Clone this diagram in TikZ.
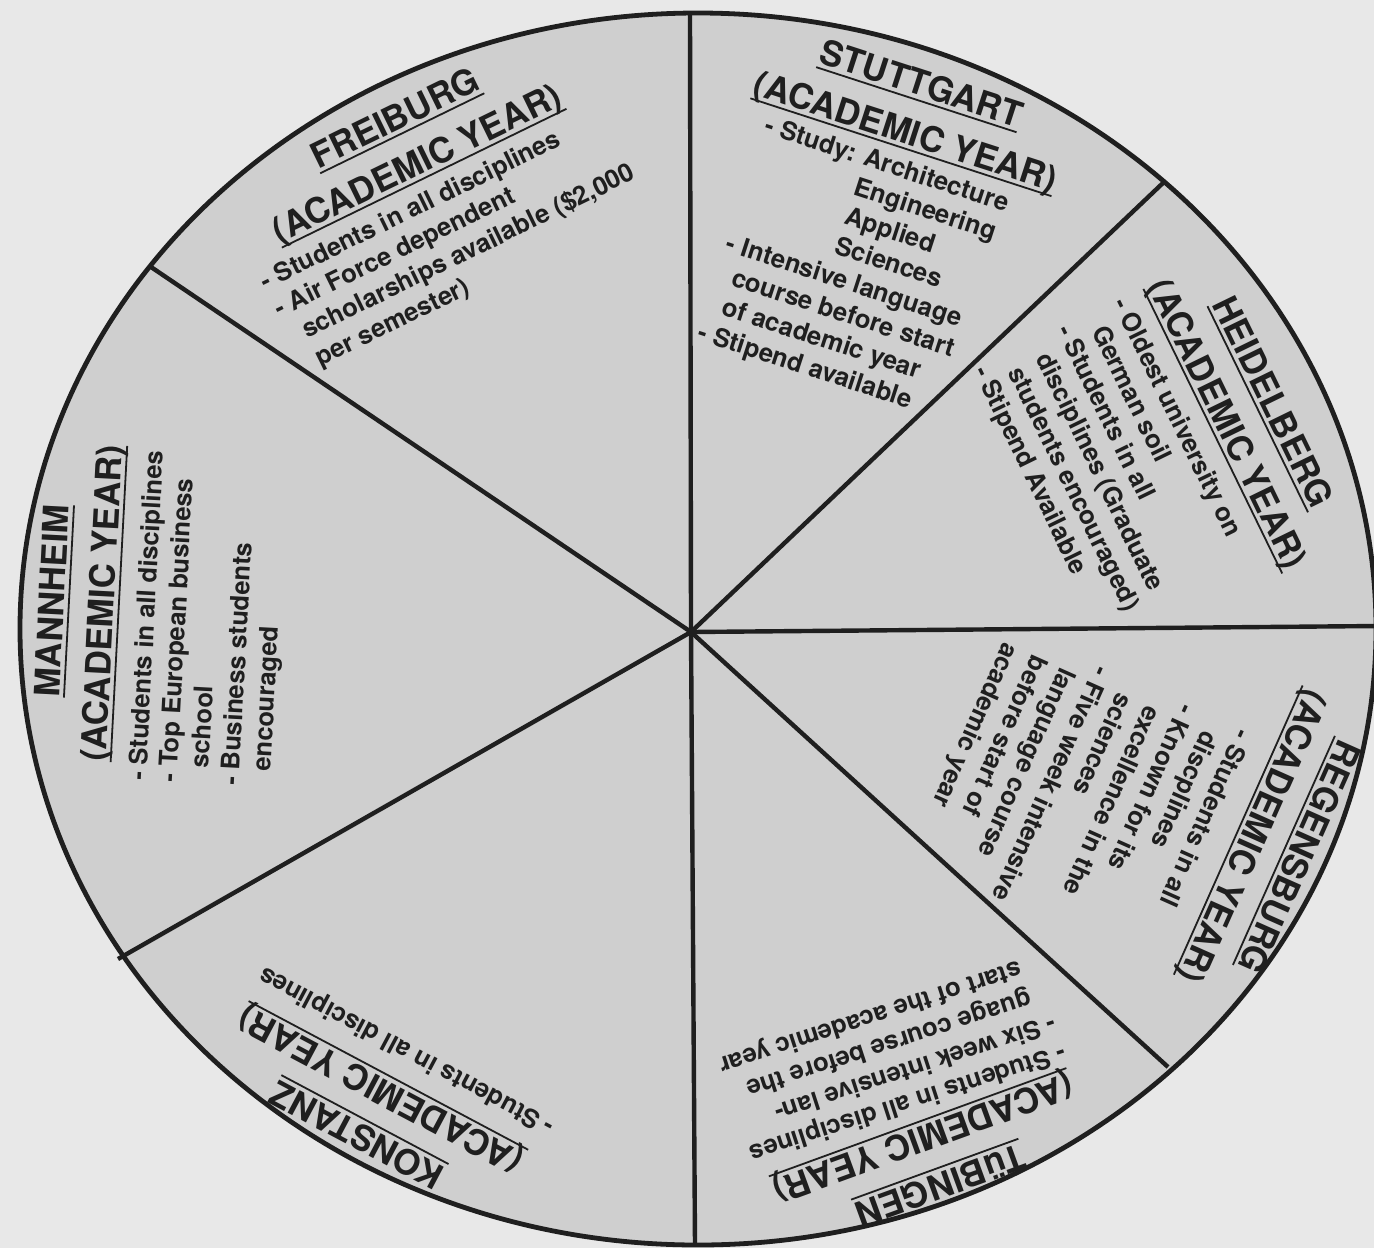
\documentclass[tikz,border=0pt]{standalone}
\usepackage{fontspec}
\setmainfont{TeX Gyre Heros}

\definecolor{paper}{gray}{0.91}
\definecolor{disc}{gray}{0.81}
\definecolor{ink}{gray}{0.12}

% underline used in the sector headings
\newcommand{\hdul}[1]{\setbox0=\hbox{#1}\rlap{\rule[-2.8pt]{\wd0}{0.9pt}}\box0}

\begin{document}
\begin{tikzpicture}[
		x=0.5pt, y=-0.5pt,
		% heading: city over (ACADEMIC YEAR)
		head/.style={font=\fontsize{17.5}{25}\selectfont\bfseries, text=ink,
			align=center, inner sep=0pt},
		% bullet list of each sector
		body/.style={font=\fontsize{12.8}{15.5}\selectfont\bfseries, text=ink,
			align=left, inner sep=0pt},
		spoke/.style={draw=ink, line width=2.2pt},
		rim/.style={draw=ink, fill=disc, line width=2.4pt}
		]
		
		\useasboundingbox (0,0) rectangle (1374,1248);
		\fill[paper] (0,0) rectangle (1374,1248);
		
		% === WHEEL ===
		
		\filldraw[rim] (698,629) ellipse [x radius=678, y radius=616];
		
		\coordinate (hub) at (691,632);
		\coordinate (rimN) at (690,13);
		\coordinate (rimNE) at (1164,182);
		\coordinate (rimE) at (1378,626);
		\coordinate (rimSE) at (1168,1067);
		\coordinate (rimS) at (695,1246);
		\coordinate (rimSW) at (118,959);
		\coordinate (rimNW) at (151,267);
		
		\foreach \r in {rimN, rimNE, rimE, rimSE, rimS, rimSW, rimNW}
		\draw[spoke] (hub) -- (\r);
		
		% === SECTORS, clockwise from the top left ===
		
		% Freiburg
		\node[head, rotate=26] (freiburgHead) at (407,143)
		{\hdul{FREIBURG}\\\hdul{(ACADEMIC YEAR)}};
		\node[body, rotate=26] (freiburgBody) at (455,242)
		{- Students in all disciplines\\- Air Force dependent\\
			\hphantom{- }scholarships available (\$2,000\\\hphantom{- }per semester)};
		
		% Stuttgart
		\node[head, rotate=-18] (stuttgartHead) at (913,110)
		{\hdul{STUTTGART}\\\hdul{(ACADEMIC YEAR)}};
		\node[body, rotate=-18] (stuttgartBody) at (853,269)
		{- Study: Architecture\\\hphantom{- Study: }Engineering\\
			\hphantom{- Study: }Applied\\\hphantom{- Study: }Sciences\\
			- Intensive language\\\hphantom{- }course before start\\
			\hphantom{- }of academic year\\- Stipend available};
		
		% Heidelberg
		\node[head, rotate=-64] (heidelbergHead) at (1248,414)
		{\hdul{HEIDELBERG}\\\hdul{(ACADEMIC YEAR)}};
		\node[body, rotate=-64] (heidelbergBody) at (1111,462)
		{- Oldest university on\\\hphantom{- }German soil\\- Students in all\\
			\hphantom{- }disciplines (Graduate\\\hphantom{- }students encouraged)\\
			- Stipend Available};
		
		% Regensburg
		\node[head, rotate=-114] (regensburgHead) at (1274,846)
		{\hdul{REGENSBURG}\\\hdul{(ACADEMIC YEAR)}};
		\node[body, rotate=-114] (regensburgBody) at (1078,796)
		{- Students in all\\\hphantom{- }discplines\\- Known for its\\
			\hphantom{- }excellence in the\\\hphantom{- }sciences\\
			- Five week intensive\\\hphantom{- }language course\\
			\hphantom{- }before start of\\\hphantom{- }academic year};
		
		% Tuebingen
		\node[head, rotate=-160] (tuebingenHead) at (931,1159)
		{\hdul{TüBINGEN}\\\hdul{(ACADEMIC YEAR)}};
		\node[body, rotate=-162] (tuebingenBody) at (892,1058)
		{- Students in all disciplines\\- Six week intensive lan-\\
			\hphantom{- }guage course before the\\\hphantom{- }start of the academic year};
		
		% Konstanz
		\node[head, rotate=152] (konstanzHead) at (370,1110)
		{\hdul{KONSTANZ}\\\hdul{(ACADEMIC YEAR)}};
		\node[body, rotate=152] (konstanzBody) at (407,1050)
		{- Students in all disciplines};
		
		% Mannheim
		\node[head, rotate=87] (mannheimHead) at (80,602)
		{\hdul{MANNHEIM}\\\hdul{(ACADEMIC YEAR)}};
		\node[body, rotate=87] (mannheimBody) at (210,619)
		{- Students in all disciplines\\- Top European business\\
			\hphantom{- }school\\- Business students\\\hphantom{- }encouraged};
		
	\end{tikzpicture}
\end{document}
